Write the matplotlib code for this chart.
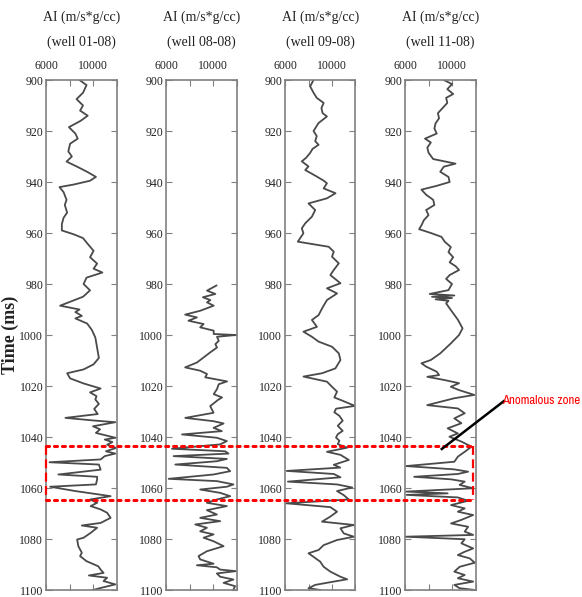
import matplotlib
matplotlib.use("Agg")
import matplotlib.pyplot as plt
from matplotlib import font_manager
from matplotlib.transforms import blended_transform_factory
from matplotlib.lines import Line2D

# ---- data: time (ms) and acoustic impedance per well ----
wells = ["well 01-08", "well 08-08", "well 09-08", "well 11-08"]

t_01 = [900, 902, 905, 907.5, 910, 912, 914, 916, 918.5, 921, 923, 925, 928, 930, 932, 934, 936, 938,
        939.5, 941, 942, 944, 947, 949, 952, 954, 956.5, 959, 960.5, 962, 964, 967, 969.5, 972, 974,
        975.5, 977.5, 980, 982.5, 985, 988.5, 990, 991, 992.5, 993.5, 995.5, 998, 1001, 1005, 1009,
        1011.5, 1013.5, 1015, 1017, 1019, 1021, 1022.5, 1024, 1025.3, 1027, 1029, 1031, 1032.5,
        1033.5, 1034.2, 1035.8, 1037, 1038.4, 1040.3, 1041, 1042, 1043, 1044.3, 1045.6, 1046.5,
        1047.5, 1048.8, 1049.9, 1050.8, 1052.8, 1054.7, 1055.6, 1056.7, 1058.6, 1059.5, 1061.2,
        1063.2, 1064.5, 1065.8, 1067.1, 1068.4, 1069.7, 1071.7, 1073.7, 1074.7, 1075.6, 1077.6,
        1079.5, 1080.2, 1082.8, 1085.4, 1086.7, 1088.7, 1090.7, 1092, 1093.3, 1094.3, 1095.2,
        1096.5, 1097.8, 1099.2, 1100]
ai_01 = [8850, 9450, 9150, 8600, 9150, 8900, 9550, 8950, 7950, 8500, 8700, 8050, 7900, 8200, 7750, 8650,
         9500, 10250, 9750, 8350, 7150, 7500, 7750, 7600, 7800, 7500, 7350, 7350, 8350, 9150, 9500,
         10050, 9750, 10350, 10050, 10800, 9450, 9200, 9750, 9150, 7200, 8850, 8500, 9050, 8500, 9500,
         9900, 10200, 10350, 10500, 10050, 9200, 7800, 8050, 9200, 10650, 9750, 10300, 10200, 10500,
         10100, 10400, 7650, 10000, 11900, 10000, 10600, 10250, 11900, 11000, 11650, 11200, 11950,
         11100, 11900, 11000, 10650, 6300, 10500, 10650, 7050, 10350, 10350, 10250, 6350, 8500,
         11500, 9750, 10350, 9800, 10650, 11200, 11500, 10650, 9050, 10350, 9800, 9200, 8650, 8750,
         9050, 8900, 9450, 10450, 10650, 10900, 9650, 11200, 10900, 11900, 10650, 10000]

t_08 = [980.6, 982.6, 983.9, 985.2, 986.3, 987.2, 988.5, 990.5, 992, 993.1, 994.4, 995.7, 997, 998.3,
        999.6, 1000, 1000.7, 1002.3, 1003.6, 1004.9, 1006.8, 1008.8, 1010.8, 1012.7, 1014, 1015.3,
        1016.6, 1018.2, 1019.3, 1021.2, 1023.2, 1024.5, 1025.3, 1027.9, 1030.5, 1032.5, 1033.8,
        1034.7, 1036.4, 1037.7, 1039, 1040.3, 1041.6, 1042.9, 1044.6, 1045.6, 1046.5, 1047.5,
        1048.6, 1049.5, 1050.8, 1052.1, 1053.4, 1054.7, 1056.4, 1057.3, 1058.6, 1059.5, 1060.6,
        1061.9, 1063.2, 1064.5, 1065.8, 1067.1, 1068.7, 1070.4, 1071.7, 1073, 1074.3, 1075.6, 1077,
        1078.2, 1079.5, 1080.9, 1082.8, 1084.8, 1086.7, 1088, 1089.7, 1090.3, 1091.1, 1092, 1092.6,
        1093.5, 1094.8, 1095.9, 1097.2, 1098.5, 1099.8]
ai_08 = [10290, 9490, 10200, 9140, 9770, 9490, 10060, 8910, 7630, 8630, 7910, 9200, 8910, 10060, 10060,
         11950, 10340, 10490, 10200, 10340, 9770, 9200, 8630, 7630, 8910, 9490, 9340, 11200, 10490,
         10340, 10060, 10770, 10470, 9760, 10050, 7640, 10050, 10900, 10050, 10750, 7360, 10330,
         11180, 10610, 6510, 11040, 11320, 6650, 11180, 10330, 6790, 11180, 11460, 10050, 6230,
         10330, 11740, 11180, 8910, 10610, 11460, 10330, 9480, 11180, 9480, 10330, 8910, 10610, 8490,
         9480, 8910, 10050, 9200, 10050, 10900, 9480, 8770, 8910, 10050, 8630, 10330, 10610, 11950,
         10330, 10610, 11740, 10900, 11880, 11740]

t_09 = [900, 902.5, 905, 907, 909, 911, 913, 914.3, 916.9, 920, 922, 924, 925.4, 927, 928.6, 930.5,
        931.9, 933.9, 935.3, 937.9, 939.5, 940.5, 942.5, 944.4, 946.4, 948.4, 951, 953.6, 956.2,
        958.2, 960.1, 963.4, 965.4, 967.3, 969.3, 971.9, 974.5, 976.5, 979.7, 981.7, 983.7, 986.3,
        989.6, 992.2, 994.1, 996.8, 998.7, 1000.7, 1002.6, 1004.6, 1007.2, 1009.8, 1013.1, 1015,
        1016.3, 1018.3, 1020.3, 1022.2, 1024.5, 1025.8, 1027.8, 1028.9, 1030.3, 1031.7, 1033.6,
        1035.6, 1037.6, 1038.9, 1040.2, 1041.5, 1042.8, 1044.2, 1045.8, 1047, 1049, 1050.9, 1052,
        1053.3, 1054.5, 1055.8, 1057.5, 1058.6, 1059.8, 1061.2, 1062.8, 1064.5, 1066, 1067.5,
        1069.3, 1071.2, 1073.2, 1074.5, 1075.8, 1077.8, 1079.1, 1080.4, 1082.4, 1084.3, 1085.6,
        1087, 1088.9, 1090.9, 1092.8, 1094.8, 1095.8, 1096.7, 1098, 1099.3, 1100]
ai_09 = [8430, 8140, 8430, 8700, 9290, 9100, 9200, 9570, 8850, 8430, 8700, 8570, 8860, 8350, 8140, 7800,
         7430, 8000, 7720, 8720, 9300, 9570, 9290, 10300, 9570, 8000, 8570, 8290, 7720, 7430, 7570,
         7090, 9720, 10150, 10000, 10580, 10150, 9860, 10720, 9570, 10430, 9570, 9150, 8860, 8290,
         8720, 7570, 8290, 8860, 10000, 10580, 10720, 10290, 9150, 7570, 9570, 10000, 10430, 10200,
         10910, 11950, 10340, 10200, 10630, 10910, 10490, 10910, 10490, 10340, 10630, 10490, 11290,
         9570, 10720, 11430, 10150, 10700, 6150, 10150, 10720, 6250, 10430, 11720, 10430, 11000,
         11430, 6100, 9860, 10430, 9860, 9150, 11860, 10720, 11000, 11860, 10430, 9290, 8860, 8000,
         8430, 9000, 9290, 9860, 10720, 11290, 10150, 8570, 8000, 9000]

t_11 = [900, 901.6, 903.6, 905.5, 907, 909, 911, 913, 915, 917, 919, 921, 923, 924.5, 926.5, 928.5, 931,
        932.8, 934, 936, 938, 940, 941.5, 943, 945, 947, 949, 951, 953, 955, 957, 958.5, 960, 961.5,
        963.5, 965.5, 967.5, 969.5, 971.5, 973, 974.5, 976.5, 978, 980, 982.4, 983.9, 984.5, 985,
        985.5, 986, 986.6, 987.6, 990.2, 994, 997.4, 1000, 1003.3, 1007.2, 1009.8, 1011.1, 1012.4,
        1014.4, 1015.7, 1016.4, 1017.6, 1018.9, 1020.3, 1021.6, 1023.5, 1024.8, 1027.5, 1028.8,
        1030.7, 1032.7, 1034.6, 1036.6, 1038.6, 1039.9, 1041.8, 1043.8, 1045.8, 1047.7, 1049.7,
        1051.4, 1052.7, 1053.6, 1054.5, 1055.6, 1056.6, 1057.5, 1058.8, 1060.1, 1061.4, 1062.1,
        1062.7, 1063.7, 1065, 1066.7, 1068, 1069.3, 1070.6, 1072.5, 1073.9, 1075.2, 1077.1, 1078.4,
        1079.1, 1080.1, 1081.7, 1083.7, 1085, 1086.3, 1087.6, 1089.3, 1090.9, 1092.8, 1094.1,
        1095.4, 1096.7, 1098, 1099.3, 1100]
ai_11 = [9300, 10000, 9600, 10100, 9500, 9600, 9200, 8800, 8900, 8600, 8500, 8700, 7700, 8200, 7900, 8000,
         8400, 10300, 9300, 9000, 9700, 9800, 8700, 7400, 7800, 8400, 8500, 7800, 8000, 7600, 7400,
         7200, 8200, 9100, 9400, 9900, 9700, 10100, 9800, 10300, 10600, 9800, 9500, 10000, 9700, 8100,
         10200, 8300, 10000, 8600, 9700, 9500, 9900, 10500, 10900, 10600, 9900, 9000, 8200, 7400, 7800,
         8700, 8900, 7900, 9300, 10600, 9900, 10600, 11900, 10200, 7890, 10500, 11080, 10200, 10800,
         9630, 10500, 9780, 10800, 11660, 11080, 10500, 10200, 6100, 10200, 11370, 10500, 6780, 9920,
         11080, 10650, 11800, 6100, 9630, 6150, 10500, 11370, 9920, 11080, 10500, 11800, 10800, 9920,
         11370, 11080, 11800, 6050, 11080, 10800, 11800, 11080, 10500, 11510, 11940, 10650, 10200,
         11080, 10500, 11800, 10200, 10650, 11940]

times = [t_01, t_08, t_09, t_11]
values = [ai_01, ai_08, ai_09, ai_11]

zone_top, zone_bottom = 1043.7, 1064.7

# ---- fonts ----
serif = ["Liberation Serif", "DejaVu Serif"]
plt.rcParams["font.family"] = serif

# a narrow sans for the red note if one is installed
note_family = "Liberation Sans"
note_stretch = "normal"
for f in font_manager.fontManager.ttflist:
    if "Narrow" in f.name or "Condensed" in f.name:
        note_family = f.name
        break
    if f.name == "DejaVu Sans" and str(f.stretch) in ("condensed", "semi-condensed"):
        note_family, note_stretch = "DejaVu Sans", "condensed"

fig = plt.figure(figsize=(5.82, 5.97), dpi=100)
W, H = 582.0, 597.0
lefts = [46, 166, 285, 405]      # panel left edges in pixels
pw = 70.5
top_px, bot_px = 80, 590

axes = []
for i, (tt, vv) in enumerate(zip(times, values)):
    ax = fig.add_axes([lefts[i] / W, (H - bot_px) / H, pw / W, (bot_px - top_px) / H])
    ax.plot(vv, tt, color="#4a4a4a", lw=1.3)
    ax.set_xlim(6000, 12000)
    ax.set_ylim(1100, 900)
    ax.set_xticks([6000, 8000, 10000, 12000])
    ax.set_xticklabels(["6000", "", "10000", ""])
    ax.set_yticks(range(900, 1101, 20))
    ax.tick_params(axis="x", direction="in", top=True, bottom=True, labeltop=True,
                   labelbottom=False, length=4, pad=6)
    ax.tick_params(axis="y", direction="in", left=True, right=True, length=4, pad=2)
    ax.tick_params(labelsize=8.5, color="#808080", labelcolor="#222222")
    for s in ax.spines.values():
        s.set_color("#808080")
        s.set_linewidth(1.2)
    ax.text(0.5, 1.1235, "AI (m/s*g/cc)", transform=ax.transAxes, ha="center", va="center",
            fontsize=10, color="#222222")
    ax.text(0.5, 1.0745, "(" + wells[i] + ")", transform=ax.transAxes, ha="center", va="center",
            fontsize=10, color="#222222")
    axes.append(ax)

axes[0].set_ylabel("Time (ms)", fontsize=13, fontweight="bold", color="#222222")
axes[0].yaxis.set_label_coords(-0.39, 0.5)

# ---- dotted red box around the anomalous zone ----
tr = blended_transform_factory(fig.transFigure, axes[0].transData)
x0, x1 = 46 / W, 473 / W
for y in (zone_top, zone_bottom):
    fig.add_artist(Line2D([x0, x1], [y, y], transform=tr, color="red", lw=2.2,
                          linestyle=(0, (1, 1.6)), dash_capstyle="round"))
for x in (x0, x1):
    fig.add_artist(Line2D([x, x], [zone_top, zone_bottom], transform=tr, color="red", lw=1.6,
                          linestyle=(0, (4, 2))))

# ---- annotation: leader line plus red label ----
tx, ty = 502 / W, 1 - 401 / H
lead = blended_transform_factory(fig.transFigure, fig.transFigure)
px, py = fig.transFigure.inverted().transform(axes[3].transData.transform((9130, 1044.7)))
fig.add_artist(Line2D([px, tx + 2 / W], [py, ty], transform=lead, color="black", lw=1.8))
note = fig.text(tx, ty, "Anomalous zone", color="red", ha="left", va="center", fontsize=14,
                family=note_family, stretch=note_stretch)

# shrink the label until it fits between the box and the right edge
fig.canvas.draw()
renderer = fig.canvas.get_renderer()
width = note.get_window_extent(renderer).width
if width > 78:
    note.set_fontsize(14 * 78 / width)

fig.savefig("out.png", dpi=100)
